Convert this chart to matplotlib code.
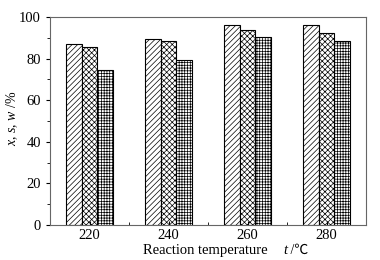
import matplotlib
matplotlib.use("Agg")
import matplotlib.pyplot as plt
import numpy as np

plt.rcParams['font.family'] = ['Liberation Serif', 'DejaVu Serif']
plt.rcParams['mathtext.fontset'] = 'custom'
plt.rcParams['mathtext.rm'] = 'Liberation Serif'
plt.rcParams['mathtext.it'] = 'Liberation Serif:italic'
plt.rcParams['hatch.linewidth'] = 0.5
plt.rcParams['hatch.color'] = '#333333'

# --- data ---
temps = ['220', '240', '260', '280']
x_conv = [86.9, 89.3, 96.0, 96.3]
s_sel = [85.8, 88.5, 93.6, 92.2]
w_yield = [74.4, 79.2, 90.2, 88.6]

series = [x_conv, s_sel, w_yield]
hatches = ['//////', 'xxxxxx', '++++++']

W, H = 380, 260
fig = plt.figure(figsize=(W / 100, H / 100), dpi=100)
ax = fig.add_axes([50 / W, 35 / H, 316 / W, 208 / H])

pos = np.arange(1, len(temps) + 1)
w = 0.2
for i, (vals, h) in enumerate(zip(series, hatches)):
	ax.bar(pos + (i - 1) * w, vals, w, facecolor='white', edgecolor='black',
		   linewidth=0.8, hatch=h)

ax.set_xlim(0.5, 4.5)
ax.set_ylim(0, 100)
ax.set_xticks(pos)
ax.set_xticklabels(temps)
ax.set_xticks([1.5, 2.5, 3.5], minor=True)
ax.set_yticks(np.arange(0, 101, 20))
ax.set_yticks(np.arange(10, 100, 20), minor=True)

ax.tick_params(axis='x', which='both', direction='in', labelsize=10.5, pad=3)
ax.tick_params(axis='x', which='major', length=3)
ax.tick_params(axis='x', which='minor', length=2)
ax.tick_params(axis='y', which='both', direction='out', labelsize=10.5)
ax.tick_params(axis='y', which='major', length=3)
ax.tick_params(axis='y', which='minor', length=2)

for s in ax.spines.values():
	s.set_color('#666666')
	s.set_linewidth(0.8)

# x label in pieces (italic t, and the degree-Celsius sign needs a fallback font)
yb = 1 - 254 / H
fig.text(143 / W, yb, 'Reaction temperature', ha='left', va='baseline', fontsize=10.5)
fig.text(283 / W, yb, 't', ha='left', va='baseline', fontsize=10.5, style='italic')
fig.text(287 / W, yb, ' /\u2103', ha='left', va='baseline', fontsize=10,
		 family=['Liberation Serif', 'Noto Sans CJK SC'])

fig.text(12 / W, 1 - 118 / H, '$x$, $s$, $w$ /%', rotation=90,
		 ha='center', va='center', fontsize=10)

fig.savefig('out.png', dpi=100)
